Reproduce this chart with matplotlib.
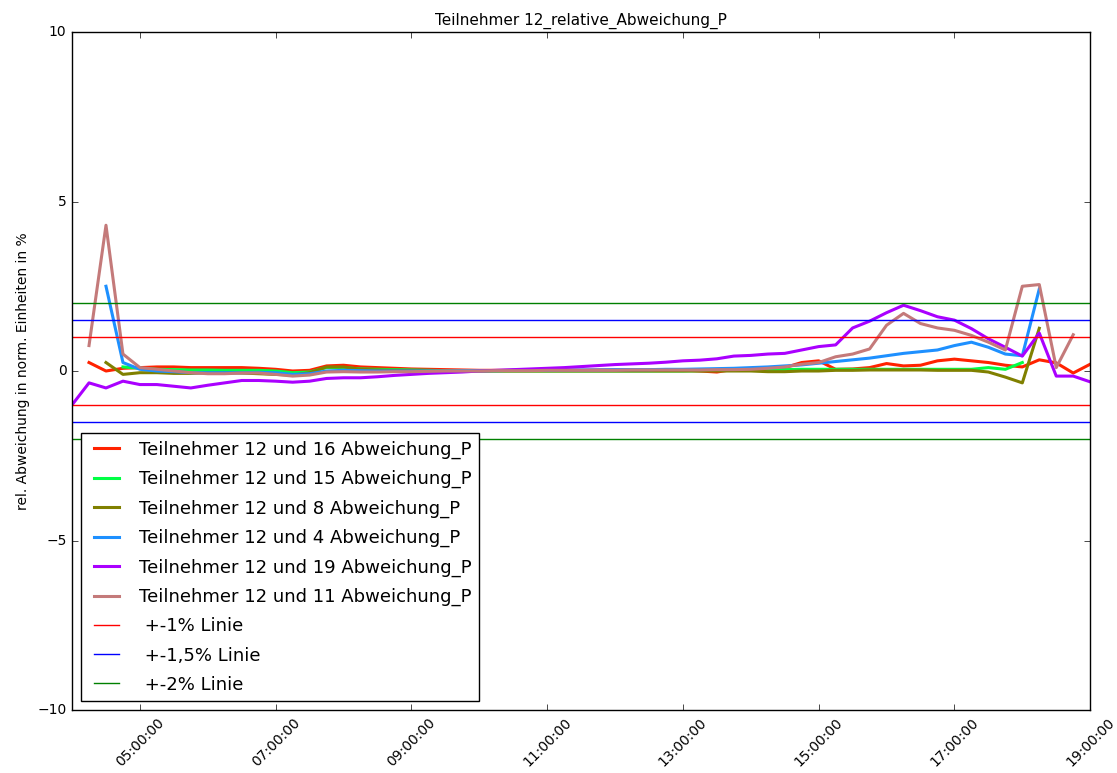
import datetime as dt
import matplotlib
matplotlib.use('Agg')
import matplotlib.pyplot as plt
import matplotlib.dates as mdates

# Messwerte alle 15 min, Index 0 = 04:00
start_zeit = dt.datetime(2000, 1, 1, 4, 0)

# (erster Index, Werte)
t16_start = 1
t16_werte = [0.25, 0.0, 0.08, 0.1, 0.12, 0.12, 0.1, 0.1, 0.1, 0.1, 0.08, 0.05, 0.0, 0.02,
             0.15, 0.17, 0.12, 0.1, 0.08, 0.06, 0.05, 0.04, 0.03, 0.02, 0.02, 0.02, 0.02,
             0.02, 0.02, 0.02, 0.03, 0.03, 0.03, 0.03, 0.03, 0.03, 0.0, -0.03, 0.05, 0.05,
             0.08, 0.1, 0.25, 0.3, 0.05, 0.06, 0.1, 0.22, 0.15, 0.17, 0.3, 0.35, 0.3, 0.25,
             0.17, 0.12, 0.33, 0.24, -0.06, 0.2]

t15_start = 3
t15_werte = [0.12, 0.08, 0.05, 0.04, 0.03, 0.03, 0.02, 0.02, 0.02, 0.0, -0.05, -0.03, 0.1,
             0.1, 0.06, 0.05, 0.04, 0.03, 0.02, 0.01, 0.01, 0.0, 0.0, 0.0, 0.0, 0.0, 0.0,
             0.0, 0.0, 0.0, 0.0, 0.0, 0.0, 0.0, 0.01, 0.02, 0.03, 0.03, 0.04, 0.04, 0.05,
             0.05, 0.05, 0.05, 0.05, 0.05, 0.05, 0.05, 0.05, 0.05, 0.05, 0.1, 0.05, 0.25]

t8_start = 2
t8_werte = [0.25, -0.1, -0.05, -0.05, -0.07, -0.07, -0.05, -0.05, -0.06, -0.08, -0.1, -0.12,
            -0.05, 0.12, 0.12, 0.05, 0.03, 0.02, 0.01, 0.0, 0.0, 0.0, 0.0, 0.0, 0.0, 0.0,
            0.0, 0.0, 0.0, 0.0, 0.0, 0.0, 0.0, 0.0, 0.0, 0.0, 0.0, 0.0, 0.0, -0.02, -0.02,
            0.0, 0.0, 0.02, 0.02, 0.03, 0.03, 0.03, 0.03, 0.02, 0.02, 0.02, -0.03, -0.18,
            -0.35, 1.26]

t4_start = 2
t4_werte = [2.5, 0.25, 0.05, 0.0, -0.02, -0.05, -0.05, -0.05, -0.05, -0.04, -0.05, -0.1,
            -0.08, 0.0, 0.02, 0.01, 0.0, 0.0, 0.0, 0.0, 0.0, 0.01, 0.01, 0.01, 0.02, 0.02,
            0.02, 0.03, 0.03, 0.03, 0.04, 0.04, 0.04, 0.05, 0.05, 0.06, 0.07, 0.08, 0.1,
            0.12, 0.15, 0.18, 0.23, 0.28, 0.33, 0.38, 0.45, 0.52, 0.57, 0.62, 0.75, 0.85,
            0.7, 0.5, 0.45, 2.42]

t19_start = 0
t19_werte = [-1.0, -0.35, -0.5, -0.3, -0.4, -0.4, -0.45, -0.5, -0.42, -0.35, -0.28, -0.28,
             -0.3, -0.33, -0.3, -0.22, -0.2, -0.2, -0.17, -0.13, -0.1, -0.07, -0.05, -0.03,
             0.0, 0.02, 0.04, 0.06, 0.08, 0.1, 0.13, 0.16, 0.19, 0.21, 0.23, 0.26, 0.3, 0.32,
             0.36, 0.44, 0.46, 0.5, 0.52, 0.62, 0.72, 0.77, 1.27, 1.47, 1.72, 1.94, 1.78,
             1.6, 1.5, 1.25, 0.95, 0.7, 0.44, 1.12, -0.15, -0.15, -0.32]

t11_start = 1
t11_werte = [0.75, 4.3, 0.5, 0.1, 0.05, 0.0, -0.05, -0.08, -0.08, -0.06, -0.06, -0.1, -0.15,
             -0.12, -0.03, -0.02, -0.03, -0.03, -0.02, -0.02, -0.01, 0.0, 0.0, 0.0, 0.01,
             0.01, 0.01, 0.02, 0.02, 0.02, 0.02, 0.02, 0.03, 0.03, 0.03, 0.03, 0.03, 0.04,
             0.04, 0.05, 0.08, 0.12, 0.2, 0.25, 0.42, 0.5, 0.65, 1.35, 1.7, 1.4, 1.27, 1.2,
             1.05, 0.85, 0.62, 2.5, 2.55, 0.1, 1.07]

serien = [
    ('Teilnehmer 12 und 16 Abweichung_P', t16_start, t16_werte, '#ff2200'),
    ('Teilnehmer 12 und 15 Abweichung_P', t15_start, t15_werte, '#00ff44'),
    ('Teilnehmer 12 und 8 Abweichung_P', t8_start, t8_werte, '#808000'),
    ('Teilnehmer 12 und 4 Abweichung_P', t4_start, t4_werte, '#1e90ff'),
    ('Teilnehmer 12 und 19 Abweichung_P', t19_start, t19_werte, '#aa00ff'),
    ('Teilnehmer 12 und 11 Abweichung_P', t11_start, t11_werte, '#c47a7a'),
]

grenzen = [1, 1.5, 2]
grenz_namen = [' +-1% Linie', ' +-1,5% Linie', ' +-2% Linie']
grenz_farben = ['#ff0000', '#0000ff', '#008000']


def zeiten(start, n):
    return [start_zeit + dt.timedelta(minutes=15 * (start + i)) for i in range(n)]


plt.style.use('classic')
fig = plt.figure(figsize=(11.17, 7.73), dpi=100, facecolor='white')
ax = fig.add_axes([0.0645, 0.0815, 0.9115, 0.8771])

for name, start, werte, farbe in serien:
    ax.plot(zeiten(start, len(werte)), werte, '-', color=farbe, lw=2.2, label=name)

for g, name, farbe in zip(grenzen, grenz_namen, grenz_farben):
    ax.axhline(g, color=farbe, lw=1, label=name)
    ax.axhline(-g, color=farbe, lw=1)

ax.set_ylim(-10, 10)
ax.set_yticks([-10, -5, 0, 5, 10])
ax.set_xlim(start_zeit, start_zeit + dt.timedelta(hours=15))
ax.xaxis.set_major_locator(mdates.HourLocator(byhour=range(5, 20, 2)))
ax.xaxis.set_major_formatter(mdates.DateFormatter('%H:%M:%S'))
plt.setp(ax.get_xticklabels(), rotation=45, fontsize=10)
plt.setp(ax.get_yticklabels(), fontsize=10)

ax.set_title('Teilnehmer 12_relative_Abweichung_P', fontsize=11)
ax.set_ylabel('rel. Abweichung in norm. Einheiten in %', fontsize=10)
ax.legend(loc='lower left', fontsize=13, labelspacing=0.62, frameon=True)

fig.savefig('out.png', dpi=100, facecolor='white')
